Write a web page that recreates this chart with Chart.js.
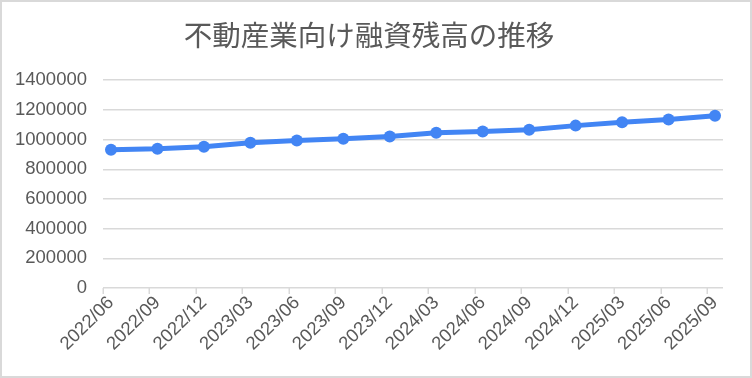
<!DOCTYPE html>
<html>
<head>
<meta charset="utf-8">
<script src="https://cdn.jsdelivr.net/npm/chart.js@4.4.1/dist/chart.umd.min.js"></script>
<style>
  html, body { margin: 0; padding: 0; background: #ffffff; }
  #wrap { width: 752px; height: 378px; }
</style>
</head>
<body>
<div id="wrap"><canvas id="c" width="752" height="378"></canvas></div>
<script>
const chartTitle = "不動産業向け融資残高の推移";
const categories = ["2022/06","2022/09","2022/12","2023/03","2023/06","2023/09","2023/12","2024/03","2024/06","2024/09","2024/12","2025/03","2025/06","2025/09"];
const loanBalance = [931000, 938000, 952000, 979000, 993000, 1005000, 1020000, 1046000, 1054000, 1066000, 1094000, 1116000, 1136000, 1161000];
const yTicks = [0, 200000, 400000, 600000, 800000, 1000000, 1200000, 1400000];

const EDGE = 0.172;
const TEXT = "#595959";
const GRID = "#d9d9d9";

const borderPlugin = {
  id: "outerBorder",
  beforeDraw(chart) {
    const ctx = chart.ctx;
    ctx.save();
    ctx.fillStyle = "#ffffff";
    ctx.fillRect(0, 0, chart.width, chart.height);
    ctx.strokeStyle = "#d9d9d9";
    ctx.lineWidth = 2;
    ctx.strokeRect(1, 1, chart.width - 2, chart.height - 2);
    ctx.restore();
  }
};

const tickMarks = {
  id: "tickMarks",
  afterDraw(chart) {
    const xs = chart.scales.x;
    const bottom = chart.chartArea.bottom;
    const ctx = chart.ctx;
    ctx.save();
    ctx.strokeStyle = GRID;
    ctx.lineWidth = 1.5;
    categories.forEach((_, i) => {
      const px = Math.round(xs.getPixelForValue(i - EDGE)) + 0.25;
      ctx.beginPath();
      ctx.moveTo(px, bottom);
      ctx.lineTo(px, bottom + 6);
      ctx.stroke();
    });
    ctx.restore();
  }
};

new Chart(document.getElementById("c"), {
  type: "line",
  data: {
    datasets: [{
      data: loanBalance.map((v, i) => ({ x: i, y: v })),
      borderColor: "#4285f4",
      backgroundColor: "#4285f4",
      borderWidth: 5,
      pointRadius: 6,
      pointBorderWidth: 0,
      pointBackgroundColor: "#4285f4",
      tension: 0
    }]
  },
  plugins: [borderPlugin, tickMarks],
  options: {
    responsive: false,
    animation: false,
    devicePixelRatio: 1,
    layout: { padding: { left: 15, right: 29, top: 0, bottom: 0 } },
    plugins: {
      legend: { display: false },
      tooltip: { enabled: false },
      title: {
        display: true,
        text: chartTitle,
        color: TEXT,
        font: { family: "'Noto Sans CJK JP', sans-serif", size: 28.5, weight: "normal", lineHeight: 1.2 },
        padding: { top: 18, bottom: 28 }
      }
    },
    scales: {
      x: {
        type: "linear",
        min: -EDGE,
        max: categories.length - 1 + EDGE,
        afterBuildTicks: (s) => { s.ticks = categories.map((_, i) => ({ value: i })); },
        afterFit: (s) => { s.height = 90; },
        grid: { display: false, drawTicks: false },
        border: { display: false },
        ticks: {
          autoSkip: false,
          minRotation: 45,
          maxRotation: 45,
          padding: 4,
          color: TEXT,
          font: { family: "'Liberation Sans', Arial, sans-serif", size: 18.5 },
          callback: (v) => categories[v]
        }
      },
      y: {
        min: 0,
        max: 1400000,
        afterBuildTicks: (s) => { s.ticks = yTicks.map(v => ({ value: v })); },
        afterFit: (s) => { s.width = 88; },
        grid: { color: GRID, lineWidth: 1.5, drawTicks: false },
        border: { display: false },
        ticks: {
          padding: 16,
          color: TEXT,
          font: { family: "'Liberation Sans', Arial, sans-serif", size: 18.5 },
          callback: (v) => String(v)
        }
      }
    }
  }
});
</script>
</body>
</html>
